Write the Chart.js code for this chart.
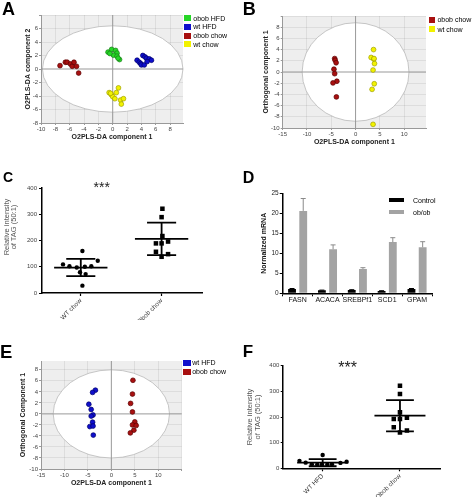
<!DOCTYPE html>
<html>
<head>
<meta charset="utf-8">
<script src="https://cdn.jsdelivr.net/npm/chart.js@4.4.1/dist/chart.umd.min.js"></script>
<style>
  body { margin: 0; background: #fff; font-family: "Liberation Sans", Arial, sans-serif; }
  #fig { position: relative; width: 472px; height: 497px; overflow: hidden; }
  canvas { position: absolute; }
  .lbl { position: absolute; font-weight: bold; line-height: 1; color: #000; }
  .leg { position: absolute; font-size: 7px; line-height: 7px; color: #000; white-space: nowrap; }
  .sw { position: absolute; }
  .stars { position: absolute; line-height: 1; color: #222; transform: translateX(-50%); }
  .vt { position: absolute; left: -20px; top: 220px; width: 60px; height: 14px; font-size: 7.5px; line-height: 7px;
        color: #555; white-space: nowrap; text-align: center; transform: rotate(-90deg); }
</style>
</head>
<body>
<div id="fig">
  <canvas id="chartA" width="236" height="150" style="left:0;top:0"></canvas>
  <canvas id="chartB" width="236" height="150" style="left:236px;top:0"></canvas>
  <canvas id="chartC" width="236" height="160" style="left:0;top:160px"></canvas>
  <canvas id="chartD" width="236" height="160" style="left:236px;top:160px"></canvas>
  <canvas id="chartE" width="236" height="177" style="left:0;top:320px"></canvas>
  <canvas id="chartF" width="236" height="177" style="left:236px;top:320px"></canvas>

  <div class="lbl" style="left:2px;top:-0.3px;font-size:18px">A</div>
  <div class="lbl" style="left:242.7px;top:0.4px;font-size:18px">B</div>
  <div class="lbl" style="left:3px;top:170px;font-size:14px">C</div>
  <div class="lbl" style="left:242.7px;top:169.6px;font-size:16px">D</div>
  <div class="lbl" style="left:0;top:342.6px;font-size:18.5px">E</div>
  <div class="lbl" style="left:242.7px;top:342.8px;font-size:17px">F</div>

  <div class="stars" style="left:101.7px;top:179.5px;font-size:14px">***</div>
  <div class="stars" style="left:347.7px;top:360px;font-size:16px">***</div>
  <div class="vt">Relative intensity<br>of TAG (50:1)</div>
</div>

<script>
Chart.defaults.font.family = '"Liberation Sans", Arial, sans-serif';
Chart.defaults.color = '#333';

// ---------- A: O2PLS-DA scores, four groups ----------
const aGroups = ['obob HFD', 'wt HFD', 'obob chow', 'wt chow'];
const aObobHfdX = [-0.65, -0.15, 0.4, 0.6, 0.1, 0.6, 0.95, 0.75, -0.4];
const aObobHfdY = [2.5, 2.9, 2.75, 2.35, 2.05, 1.9, 1.4, 1.6, 2.3];
const aWtHfdX = [3.4, 3.7, 3.9, 4.2, 4.5, 4.7, 5.1, 5.4, 4.0, 4.4, 4.8];
const aWtHfdY = [1.3, 1.0, 0.8, 2.0, 1.8, 1.6, 1.5, 1.3, 0.6, 0.6, 1.1];
const aObobChowX = [-7.35, -6.6, -6.35, -5.9, -5.65, -5.4, -5.05, -4.75];
const aObobChowY = [0.5, 1.0, 1.0, 0.75, 0.4, 1.0, 0.4, -0.6];
const aWtChowX = [-0.5, -0.2, 0.0, 0.3, 0.5, 0.8, 1.1, 1.5, 1.2, -0.3];
const aWtChowY = [-3.5, -3.8, -4.1, -4.4, -3.5, -2.8, -4.6, -4.4, -5.2, -3.6];

// ---------- B: obob chow vs wt chow ----------
const bGroups = ['obob chow', 'wt chow'];
const bObobChowX = [-4.3, -4.2, -4.0, -4.45, -4.3, -3.85, -4.65, -3.95];
const bObobChowY = [2.4, 2.1, 1.65, 0.5, -0.3, -1.65, -1.95, -4.45];
const bWtChowX = [3.7, 3.2, 3.75, 3.9, 3.6, 3.85, 3.4, 3.6, 3.8];
const bWtChowY = [4.0, 2.6, 2.3, 1.5, 0.35, -2.1, -3.1, -9.35, 2.4];

// ---------- C: TAG (50:1), WT chow vs Obob chow ----------
const cCats = ['WT chow', 'Obob chow'];
const cWtX = [1.02, 1.21, 0.78, 0.86, 0.95, 1.05, 1.13, 0.99, 1.06, 1.02];
const cWtY = [160, 123, 109, 102, 97, 100, 102, 79, 72, 28];
const cObX = [2.01, 2.0, 2.01, 1.93, 2.0, 2.08, 1.93, 2.0, 2.08];
const cObY = [321, 289, 217, 189, 189, 196, 157, 138, 148];
const cMeans = [97, 206];
const cSds = [33, 62];

// ---------- D: lipogenic gene expression ----------
const dGenes = ['FASN', 'ACACA', 'SREBPf1', 'SCD1', 'GPAM'];
const dControl = [1.1, 0.75, 0.8, 0.6, 1.1];
const dControlErr = [0.1, 0.05, 0.1, 0.05, 0.1];
const dObob = [20.6, 11.0, 6.1, 12.8, 11.5];
const dObobErr = [3.1, 1.1, 0.3, 1.1, 1.4];

// ---------- E: wt HFD vs obob chow ----------
const eGroups = ['wt HFD', 'obob chow'];
const eWtHfdX = [-3.4, -4.0, -4.8, -4.3, -3.9, -4.3, -4.0, -4.6, -3.9, -3.85];
const eWtHfdY = [4.3, 3.9, 1.75, 0.8, -0.2, -0.4, -1.5, -2.3, -2.2, -3.85];
const eObobChowX = [4.6, 4.5, 4.1, 4.5, 5.0, 4.5, 5.3, 4.8, 4.05];
const eObobChowY = [6.1, 3.6, 1.9, 0.35, -1.45, -2.0, -2.1, -2.95, -3.45];

// ---------- F: TAG (50:1), WT HFD vs Obob chow ----------
const fCats = ['WT HFD', 'Obob chow'];
const fWtX = [0.7, 0.78, 1.0, 0.86, 0.93, 0.99, 1.06, 1.12, 1.23, 1.31];
const fWtY = [29, 22, 52, 16, 14, 15, 14, 16, 21, 26];
const fObX = [2.0, 2.0, 2.0, 1.92, 2.0, 2.09, 1.92, 2.0, 2.09];
const fObY = [322, 290, 218, 192, 192, 197, 160, 140, 147];
const fMeans = [22, 205];
const fSds = [14, 61];

const GREEN = ['#26d626', '#168016'];
const BLUE = ['#0f0fcc', '#00006a'];
const RED = ['#a81010', '#5a0000'];
const YELLOW = ['#f2f200', '#a0a000'];

const fig = document.getElementById('fig');

function pts(xs, ys) {
  return xs.map((x, i) => ({ x: x, y: ys[i] }));
}

function scoreSet(label, xs, ys, col) {
  return {
    label: label, data: pts(xs, ys),
    backgroundColor: col[0], borderColor: col[1], borderWidth: 0.7,
    pointRadius: 2.4
  };
}

function htmlLegend(x, y, step, names, colors, sw) {
  names.forEach((name, i) => {
    const top = y + i * step;
    const box = document.createElement('div');
    box.className = 'sw';
    box.style.cssText = 'left:' + x + 'px;top:' + top + 'px;width:' + sw[0] + 'px;height:' + sw[1] + 'px;background:' + colors[i];
    fig.appendChild(box);
    const t = document.createElement('div');
    t.className = 'leg';
    t.textContent = name;
    t.style.cssText = 'left:' + (x + sw[0] + sw[2]) + 'px;top:' + (top + sw[1] / 2 - 3.5) + 'px';
    fig.appendChild(t);
  });
}

// grey plot background, white confidence ellipse and the zero axes
const scorePlot = {
  id: 'scorePlot',
  beforeDraw(chart) {
    const { ctx, chartArea: a } = chart;
    ctx.save();
    ctx.fillStyle = '#eeeeee';
    ctx.fillRect(a.left, a.top, a.width, a.height);
    ctx.restore();
  },
  beforeDatasetsDraw(chart, args, opts) {
    const { ctx, chartArea: a, scales: { x, y } } = chart;
    const cx = x.getPixelForValue(0), cy = y.getPixelForValue(0);
    const rx = x.getPixelForValue(opts.rx) - cx;
    const ry = cy - y.getPixelForValue(opts.ry);
    ctx.save();
    ctx.beginPath();
    ctx.ellipse(cx, cy, rx, ry, 0, 0, Math.PI * 2);
    ctx.fillStyle = '#fff';
    ctx.fill();
    ctx.strokeStyle = '#b8b8b8';
    ctx.lineWidth = 0.8;
    ctx.stroke();
    ctx.beginPath();
    ctx.moveTo(a.left, cy); ctx.lineTo(a.right, cy);
    ctx.moveTo(cx, a.top); ctx.lineTo(cx, a.bottom);
    ctx.strokeStyle = '#999';
    ctx.lineWidth = 1;
    ctx.stroke();
    ctx.restore();
  }
};

function scoreChart(id, datasets, o) {
  return new Chart(document.getElementById(id), {
    type: 'scatter',
    data: { datasets: datasets },
    options: {
      responsive: false, animation: false, devicePixelRatio: 1,
      layout: { padding: { top: o.top, right: o.right, left: 0, bottom: 0 } },
      plugins: { legend: { display: false }, tooltip: { enabled: false }, scorePlot: o.ellipse },
      scales: {
        x: {
          type: 'linear', min: o.x[0], max: o.x[1],
          ticks: { stepSize: o.x[2], includeBounds: false, font: { size: 6 }, color: '#444', padding: 1,
                   callback: v => (o.hideX.includes(v) ? '' : v) },
          grid: { color: 'rgba(0,0,0,0.07)', tickLength: 2, tickColor: '#999' },
          border: { color: '#999' },
          title: { display: true, text: o.xTitle, color: '#222', font: { size: 7, weight: 'bold' },
                   padding: { top: 0, bottom: o.xTitlePad } },
          afterFit: s => { s.height = o.xH; }
        },
        y: {
          type: 'linear', min: o.y[0], max: o.y[1],
          ticks: { stepSize: o.y[2], includeBounds: false, font: { size: 6 }, color: '#444', padding: 1,
                   callback: v => (o.hideY.includes(v) ? '' : v) },
          grid: { color: 'rgba(0,0,0,0.07)', tickLength: 2, tickColor: '#999' },
          border: { color: '#999' },
          title: { display: true, text: o.yTitle, color: '#222', font: { size: 7, weight: 'bold' },
                   padding: { top: o.yTitlePad, bottom: 0 } },
          afterFit: s => { s.width = o.left; }
        }
      }
    },
    plugins: [scorePlot]
  });
}

// mean line with +/- SD whiskers for the dot plots
const meanSd = {
  id: 'meanSd',
  afterDatasetsDraw(chart, args, opts) {
    const { ctx, scales: { x, y } } = chart;
    ctx.save();
    ctx.strokeStyle = '#000';
    ctx.lineWidth = 1.8;
    opts.means.forEach((m, i) => {
      const cx = x.getPixelForValue(i + 1);
      const half = x.getPixelForValue(i + 1 + opts.meanHalf) - cx;
      const cap = x.getPixelForValue(i + 1 + opts.capHalf) - cx;
      const ym = y.getPixelForValue(m);
      const yt = y.getPixelForValue(m + opts.sds[i]);
      const yb = y.getPixelForValue(m - opts.sds[i]);
      ctx.beginPath();
      ctx.moveTo(cx - half, ym); ctx.lineTo(cx + half, ym);
      ctx.moveTo(cx, yt); ctx.lineTo(cx, yb);
      ctx.moveTo(cx - cap, yt); ctx.lineTo(cx + cap, yt);
      ctx.moveTo(cx - cap, yb); ctx.lineTo(cx + cap, yb);
      ctx.stroke();
    });
    ctx.restore();
  }
};

function dotChart(id, cats, wt, ob, stats, o) {
  return new Chart(document.getElementById(id), {
    type: 'scatter',
    data: {
      datasets: [
        { label: cats[0], data: pts(wt[0], wt[1]), backgroundColor: '#000', borderWidth: 0, pointRadius: 2.2 },
        { label: cats[1], data: pts(ob[0], ob[1]), backgroundColor: '#000', borderWidth: 0, pointRadius: 3.2, pointStyle: 'rect' }
      ]
    },
    options: {
      responsive: false, animation: false, devicePixelRatio: 1,
      layout: { padding: { top: o.top, right: o.right, left: 0, bottom: 0 } },
      plugins: {
        legend: { display: false }, tooltip: { enabled: false },
        meanSd: { means: stats[0], sds: stats[1], meanHalf: 0.33, capHalf: 0.18 }
      },
      scales: {
        x: {
          type: 'linear', min: o.x[0], max: o.x[1],
          afterBuildTicks: s => { s.ticks = cats.map((c, i) => ({ value: i + 1 })); },
          ticks: { autoSkip: false, minRotation: 45, maxRotation: 45, font: { size: 6.5 }, color: '#333', padding: 1,
                   callback: v => cats[v - 1] },
          grid: { drawOnChartArea: false, tickLength: 3, color: '#000', tickWidth: 1.2 },
          border: { color: '#000', width: 1.5 },
          afterFit: s => { s.height = o.xH; }
        },
        y: {
          type: 'linear', min: 0, max: 400,
          ticks: { stepSize: 100, font: { size: 6 }, color: '#444', padding: o.tickPad },
          grid: { drawOnChartArea: false, tickLength: o.tickLen, color: '#000', tickWidth: 1.2 },
          border: { color: '#000', width: 1.5 },
          title: o.yTitle ? { display: true, text: o.yTitle, color: '#555', font: { size: 7.5, lineHeight: 1 },
                              padding: { top: o.yTitlePad, bottom: 0 } } : { display: false },
          afterFit: s => { s.width = o.left; }
        }
      }
    },
    plugins: [meanSd]
  });
}

// upper-only error bars for panel D
const upperErr = {
  id: 'upperErr',
  afterDatasetsDraw(chart) {
    const { ctx, scales: { y } } = chart;
    chart.data.datasets.forEach((ds, i) => {
      const meta = chart.getDatasetMeta(i);
      ctx.save();
      ctx.strokeStyle = ds.errColor;
      ctx.lineWidth = 1;
      meta.data.forEach((bar, j) => {
        const top = y.getPixelForValue(ds.data[j] + ds.errors[j]);
        ctx.beginPath();
        ctx.moveTo(bar.x, bar.y); ctx.lineTo(bar.x, top);
        ctx.moveTo(bar.x - 2.5, top); ctx.lineTo(bar.x + 2.5, top);
        ctx.stroke();
      });
      ctx.restore();
    });
  }
};

// ---- A
scoreChart('chartA', [
  scoreSet(aGroups[0], aObobHfdX, aObobHfdY, GREEN),
  scoreSet(aGroups[1], aWtHfdX, aWtHfdY, BLUE),
  scoreSet(aGroups[2], aObobChowX, aObobChowY, RED),
  scoreSet(aGroups[3], aWtChowX, aWtChowY, YELLOW)
], {
  top: 15, right: 53, left: 41, xH: 27,
  x: [-10, 9.8, 2], y: [-8, 8, 2], hideX: [], hideY: [8],
  xTitle: 'O2PLS-DA component 1', yTitle: 'O2PLS-DA component 2',
  xTitlePad: 9, yTitlePad: 23.8, ellipse: { rx: 9.8, ry: 6.4 }
});
htmlLegend(184.3, 15, 8.8, aGroups, [GREEN[0], BLUE[0], RED[0], YELLOW[0]], [6.7, 6, 2.3]);

// ---- B
scoreChart('chartB', [
  scoreSet(bGroups[0], bObobChowX, bObobChowY, RED),
  scoreSet(bGroups[1], bWtChowX, bWtChowY, YELLOW)
], {
  top: 16, right: 46, left: 46.7, xH: 22,
  x: [-15, 14.5, 5], y: [-10, 10, 2], hideX: [], hideY: [10],
  xTitle: 'O2PLS-DA component 1', yTitle: 'Orthogonal component 1',
  xTitlePad: 4, yTitlePad: 25.8, ellipse: { rx: 11, ry: 8.8 }
});
htmlLegend(428.7, 16.7, 9.3, bGroups, [RED[0], YELLOW[0]], [6.7, 6, 2]);

// ---- C
dotChart('chartC', cCats, [cWtX, cWtY], [cObX, cObY], [cMeans, cSds], {
  top: 28, right: 34, left: 42, xH: 27, x: [0.52, 2.5], tickLen: 3, tickPad: 2
});

// ---- D
new Chart(document.getElementById('chartD'), {
  type: 'bar',
  data: {
    labels: dGenes,
    datasets: [
      { label: 'Control', data: dControl, errors: dControlErr, errColor: '#000', backgroundColor: '#000' },
      { label: 'ob/ob', data: dObob, errors: dObobErr, errColor: '#8a8a8a', backgroundColor: '#a3a3a3' }
    ]
  },
  options: {
    responsive: false, animation: false, devicePixelRatio: 1,
    categoryPercentage: 0.75, barPercentage: 0.7,
    layout: { padding: { top: 33.3, right: 40, left: 0, bottom: 0 } },
    plugins: { legend: { display: false }, tooltip: { enabled: false } },
    scales: {
      x: {
        ticks: { font: { size: 7 }, color: '#111', padding: 0, autoSkip: false, minRotation: 0, maxRotation: 0 },
        grid: { drawOnChartArea: false, tickLength: 3, color: '#000' },
        border: { color: '#000', width: 1.5 },
        afterFit: s => { s.height = 26.7; }
      },
      y: {
        min: 0, max: 25,
        ticks: { stepSize: 5, font: { size: 6.5 }, color: '#222', padding: 1 },
        grid: { drawOnChartArea: false, tickLength: 3, color: '#000' },
        border: { color: '#000', width: 1.5 },
        title: { display: true, text: 'Normalized mRNA', color: '#111', font: { size: 7, weight: 'bold' },
                 padding: { top: 23.8, bottom: 0 } },
        afterFit: s => { s.width = 46.7; }
      }
    }
  },
  plugins: [upperErr]
});
htmlLegend(389, 197.8, 12, ['Control', 'ob/ob'], ['#000', '#a3a3a3'], [15, 4.5, 9]);

// ---- E
scoreChart('chartE', [
  scoreSet(eGroups[0], eWtHfdX, eWtHfdY, BLUE),
  scoreSet(eGroups[1], eObobChowX, eObobChowY, RED)
], {
  top: 41, right: 54.3, left: 41, xH: 28,
  x: [-15, 15, 5], y: [-10, 9.6, 2], hideX: [15], hideY: [],
  xTitle: 'O2PLS-DA component 1', yTitle: 'Orthogonal Component 1',
  xTitlePad: 10, yTitlePad: 18.8, ellipse: { rx: 12.4, ry: 8.0 }
});
htmlLegend(183, 360, 9, eGroups, [BLUE[0], RED[0]], [7.7, 5.7, 1.5]);

// ---- F
dotChart('chartF', fCats, [fWtX, fWtY], [fObX, fObY], [fMeans, fSds], {
  top: 45.7, right: 32, left: 46.7, xH: 28.7, x: [0.483, 2.518], tickLen: 2, tickPad: 1.4,
  yTitle: ['Relative intensity', 'of TAG (50:1)'], yTitlePad: 10.2
});
</script>
</body>
</html>
